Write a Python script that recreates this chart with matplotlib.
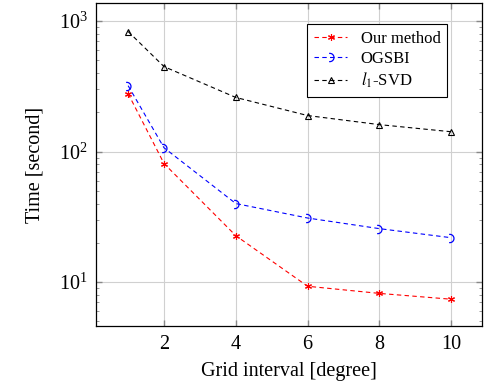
#!/usr/bin/env python3
"""Time vs grid interval, log scale, three methods."""
import matplotlib
matplotlib.use("Agg")
import matplotlib.pyplot as plt
from matplotlib.path import Path
from matplotlib.ticker import LogLocator, NullFormatter

plt.rcParams["font.family"] = ["Liberation Serif", "DejaVu Serif"]
plt.rcParams["mathtext.fontset"] = "stix"

grid_interval = [1, 2, 4, 6, 8, 10]
t_ours = [278, 81, 22.7, 9.3, 8.2, 7.4]
t_ogsbi = [320, 107, 40, 31, 25.7, 21.9]
t_l1svd = [832, 448, 260, 189, 161, 142]
labels = ["Our method", "OGSBI", r"$l_1$-SVD"]

# little open arc, like the pgfplots half circle mark
arc = Path.arc(-100, 100)
arc = Path(arc.vertices + [-0.4, 0], arc.codes)

fig = plt.figure(figsize=(4.84, 3.86), dpi=100)
ax = fig.add_axes([0.198, 0.155, 0.798, 0.837])

ax.plot(grid_interval, t_ours, color="red", ls=(0, (4, 3)), lw=0.8,
        marker=(6, 2, 0), ms=5, mew=0.8, label=labels[0])
ax.plot(grid_interval, t_ogsbi, color="blue", ls=(0, (4, 3)), lw=0.8,
        marker=arc, ms=6, mew=0.9, mfc="none", label=labels[1])
ax.plot(grid_interval, t_l1svd, color="black", ls=(0, (4, 3)), lw=0.8,
        marker="^", ms=4, mew=0.8, mfc="none", label=labels[2])

ax.set_yscale("log")
ax.set_xlim(0.1, 10.86)
ax.set_ylim(4.6, 1374)
ax.set_xticks([2, 4, 6, 8, 10])
ax.yaxis.set_major_locator(LogLocator(base=10, numticks=10))
ax.yaxis.set_minor_locator(LogLocator(base=10, subs=range(2, 10), numticks=20))
ax.yaxis.set_minor_formatter(NullFormatter())

ax.grid(True, which="major", color="#d0d0d0", lw=0.8)
ax.set_axisbelow(True)
ax.tick_params(which="both", direction="in", colors="#888888", labelcolor="black",
               top=True, right=True, labelsize=14.5)
ax.tick_params(which="major", length=4, width=1, pad=6)
ax.tick_params(which="minor", length=2.5, width=0.6)
for s in ax.spines.values():
    s.set_linewidth(0.9)

ax.set_xlabel("Grid interval [degree]", fontsize=14.5, labelpad=6)
ax.set_ylabel("Time [second]", fontsize=14.5, labelpad=10)

leg = ax.legend(loc="upper right", bbox_to_anchor=(0.91, 0.935), borderaxespad=0,
                fontsize=12, fancybox=False, edgecolor="black", framealpha=1,
                handlelength=2.0, borderpad=0.4, labelspacing=0.25)
leg.get_frame().set_linewidth(0.8)

plt.savefig("out.png", dpi=100, facecolor="white")
